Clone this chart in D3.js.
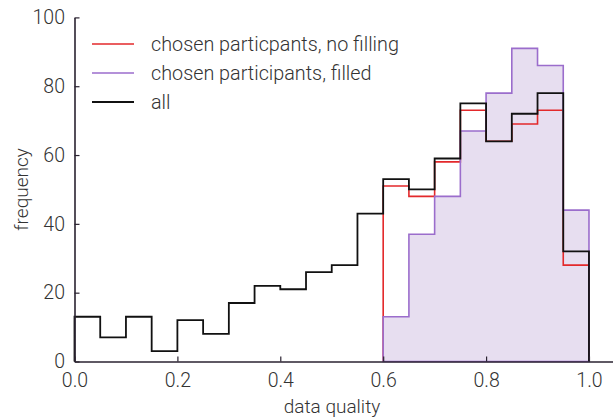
<!DOCTYPE html>
<html>
<head>
<meta charset="utf-8">
<script src="https://cdn.jsdelivr.net/npm/d3@7"></script>
<style>
  html, body { margin: 0; padding: 0; background: #fff; }
  svg text { font-family: Roboto, "Liberation Sans", sans-serif; font-weight: 300; fill: #333; }
</style>
</head>
<body>
<svg id="chart" width="613" height="419"></svg>
<script>
// Histogram bins: left edges, width 0.05
const binEdges = d3.range(0, 20).map(i => +(i * 0.05).toFixed(2));
const binWidth = 0.05;

// Counts per bin
const allCounts      = [13, 7, 13, 3, 12, 8, 17, 22, 21, 26, 28, 43, 53, 50, 59, 75, 64, 72, 78, 32];
const noFillCounts   = [0, 0, 0, 0, 0, 0, 0, 0, 0, 0, 0, 0, 51, 48, 58, 73, 64, 69, 73, 28];
const filledCounts   = [0, 0, 0, 0, 0, 0, 0, 0, 0, 0, 0, 0, 13, 37, 48, 67, 78, 91, 86, 44];

const xTicks = [0, 0.2, 0.4, 0.6, 0.8, 1.0];
const yTicks = [0, 20, 40, 60, 80, 100];

const seriesNames = ["chosen particpants, no filling", "chosen participants, filled", "all"];
const seriesColors = ["#e3292b", "#9b6dcc", "#111111"];
const fillColor = "#e7def0";

const svg = d3.select("#chart");
const x = d3.scaleLinear().domain([0, 1.05]).range([74.5, 614.7]);
const y = d3.scaleLinear().domain([0, 100]).range([361.5, 17.4]);

// Step outline for a histogram, starting at the first non-empty bin
function stepPoints(counts) {
  let start = counts.findIndex(c => c > 0);
  let end = counts.length - 1;
  while (end > start && counts[end] === 0) end--;
  const pts = [[binEdges[start], 0]];
  for (let i = start; i <= end; i++) {
    pts.push([binEdges[i], counts[i]]);
    pts.push([binEdges[i] + binWidth, counts[i]]);
  }
  pts.push([binEdges[end] + binWidth, 0]);
  return pts;
}
const line = d3.line().x(d => x(d[0])).y(d => y(d[1]));

const plot = svg.append("g");

// filled histogram area
const filledPts = stepPoints(filledCounts);
plot.append("path")
  .attr("d", line(filledPts) + "Z")
  .attr("fill", fillColor)
  .attr("stroke", "none");

// red step
plot.append("path")
  .attr("d", line(stepPoints(noFillCounts)))
  .attr("fill", "none")
  .attr("stroke", seriesColors[0])
  .attr("stroke-width", 1.6);

// purple step outline
plot.append("path")
  .attr("d", line(filledPts) + "Z")
  .attr("fill", "none")
  .attr("stroke", seriesColors[1])
  .attr("stroke-width", 1.6);

// black step
plot.append("path")
  .attr("d", line(stepPoints(allCounts)))
  .attr("fill", "none")
  .attr("stroke", seriesColors[2])
  .attr("stroke-width", 1.8);

// axes with inward ticks
const xAxis = svg.append("g")
  .attr("transform", `translate(0,${y(0)})`)
  .call(d3.axisBottom(x).tickValues(xTicks).tickFormat(d3.format(".1f")).tickSizeInner(-5).tickSizeOuter(0).tickPadding(14));
const yAxis = svg.append("g")
  .attr("transform", `translate(${x(0)},0)`)
  .call(d3.axisLeft(y).tickValues(yTicks).tickSizeInner(-5).tickSizeOuter(0).tickPadding(9.5));

[xAxis, yAxis].forEach(g => {
  g.select(".domain").attr("stroke", "#2a2230").attr("stroke-width", 1.6);
  g.selectAll(".tick line").attr("stroke", "#2a2230").attr("stroke-width", 1.2);
  g.selectAll(".tick text").style("font-size", "19.5px").attr("fill", "#333");
});
xAxis.selectAll(".tick text").attr("dy", "0.6em");

// axis titles
svg.append("text")
  .attr("x", 332)
  .attr("y", 413)
  .attr("text-anchor", "middle")
  .style("font-size", "19px")
  .text("data quality");
svg.append("text")
  .attr("transform", `translate(28,${(y(0) + y(100)) / 2}) rotate(-90)`)
  .attr("text-anchor", "middle")
  .style("font-size", "19px")
  .text("frequency");

// legend
const legend = svg.append("g");
const legendY = [44, 73, 102];
seriesNames.forEach((name, i) => {
  legend.append("line")
    .attr("x1", 92).attr("x2", 134)
    .attr("y1", legendY[i]).attr("y2", legendY[i])
    .attr("stroke", seriesColors[i])
    .attr("stroke-width", i === 2 ? 1.8 : 1.6);
  legend.append("text")
    .attr("x", 151).attr("y", legendY[i])
    .attr("dy", "0.35em")
    .style("font-size", "19.8px")
    .text(name);
});
</script>
</body>
</html>
